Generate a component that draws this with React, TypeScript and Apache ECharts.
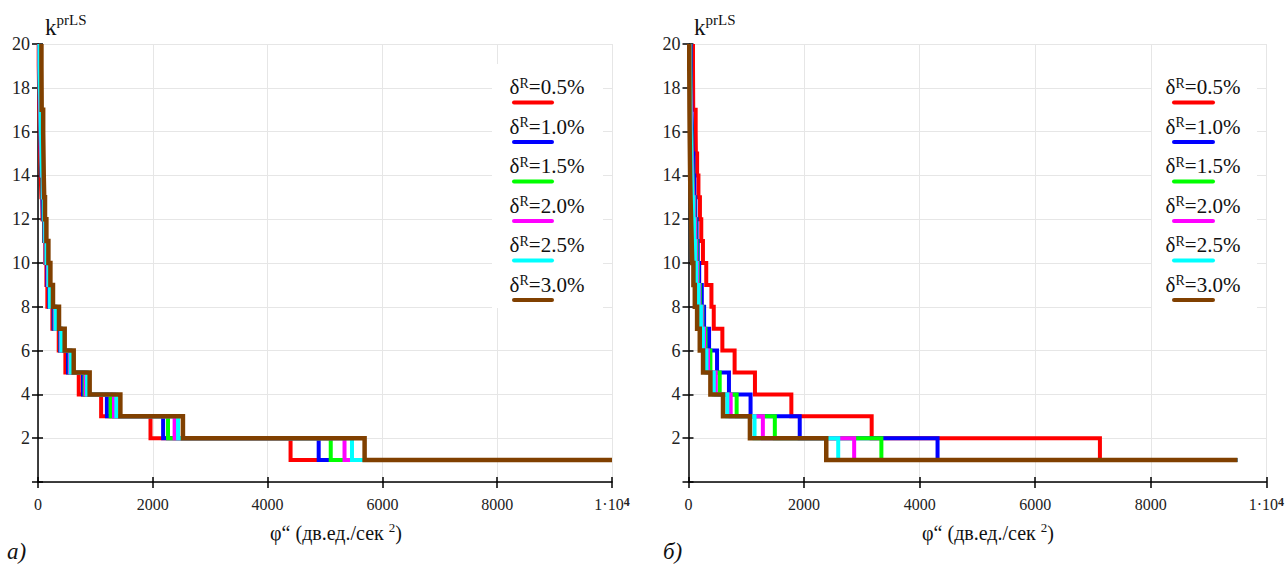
import React, { useEffect, useRef } from "react";
import * as echarts from "echarts";

const FONT = "'Times New Roman', 'Liberation Serif', serif";

// legend labels and colours
const legendLabels = ["0.5%", "1.0%", "1.5%", "2.0%", "2.5%", "3.0%"];
const seriesColors = ["#ff0000", "#0000ff", "#00ff00", "#ff00ff", "#00ffff", "#804000"];

// x positions where k drops from k+1 to k (index 0 -> k = 1 ... index 18 -> k = 19)
// chart а)
const dropsA_05 = [4400, 1960, 1100, 710, 477, 361, 251, 163, 146, 128, 105, 77, 59, 47, 38, 30, 24, 18, 12];
const dropsA_10 = [4890, 2180, 1200, 784, 523, 383, 273, 192, 163, 135, 110, 88, 77, 60, 50, 40, 33, 26, 18];
const dropsA_15 = [5100, 2265, 1266, 813, 552, 395, 291, 204, 175, 146, 116, 99, 80, 66, 55, 45, 37, 29, 22];
const dropsA_20 = [5340, 2380, 1324, 831, 560, 400, 300, 207, 178, 150, 120, 102, 85, 70, 58, 48, 40, 32, 24];
const dropsA_25 = [5470, 2440, 1365, 854, 570, 408, 308, 210, 182, 152, 125, 105, 90, 74, 62, 52, 43, 35, 27];
const dropsA_30 = [5690, 2525, 1435, 900, 622, 465, 366, 261, 216, 181, 146, 122, 108, 100, 95, 90, 64, 62, 60];
const xEndA = 10000;

// chart б)
const dropsB_05 = [7120, 3170, 1780, 1150, 798, 586, 437, 397, 307, 250, 221, 198, 172, 149, 128, 124, 82, 80, 78];
const dropsB_10 = [4310, 1925, 1074, 700, 494, 356, 270, 230, 185, 160, 140, 118, 100, 85, 72, 62, 50, 45, 40];
const dropsB_15 = [3338, 1494, 833, 540, 379, 293, 240, 195, 160, 140, 120, 100, 82, 70, 60, 50, 42, 36, 30];
const dropsB_20 = [2867, 1287, 730, 471, 339, 270, 228, 183, 150, 125, 110, 90, 75, 64, 54, 45, 38, 32, 27];
const dropsB_25 = [2591, 1143, 672, 437, 310, 250, 215, 172, 135, 112, 96, 80, 66, 56, 47, 39, 32, 27, 22];
const dropsB_30 = [2384, 1063, 597, 379, 252, 195, 149, 109, 85, 65, 55, 45, 35, 28, 24, 20, 17, 15, 13];
const xEndB = 9500;

const dropsA = [dropsA_05, dropsA_10, dropsA_15, dropsA_20, dropsA_25, dropsA_30];
const dropsB = [dropsB_05, dropsB_10, dropsB_15, dropsB_20, dropsB_25, dropsB_30];

// axes
const xMin = 0;
const xMax = 10000;
const xInterval = 2000;
const yMin = 0;
const yMax = 20;
const yInterval = 2;

const xAxisTitle = "φ“ (дв.ед./сек ";
const xAxisTitleSup = "2";
const yAxisTitle = "k";
const yAxisTitleSup = "prLS";
const panelLabels = ["а)", "б)"];

function stairs(drops: number[], xEnd: number): number[][] {
  const pts: number[][] = [];
  for (let k = drops.length; k >= 1; k--) {
    const x = drops[k - 1];
    pts.push([x, k + 1], [x, k]);
  }
  pts.push([xEnd, 1]);
  return pts;
}

const grids = [
  { left: 38, top: 44, width: 574, height: 438 },
  { left: 688.5, top: 44, width: 580, height: 438 },
];

export default function App() {
  const ref = useRef<HTMLDivElement>(null);

  useEffect(() => {
    if (!ref.current) return;
    const chart = echarts.init(ref.current, null, { renderer: "svg" });

    const axisColor = "#000";
    const xAxes: any[] = [];
    const yAxes: any[] = [];
    grids.forEach((_, gi) => {
      xAxes.push({
        type: "value",
        gridIndex: gi,
        min: xMin,
        max: xMax,
        interval: xInterval,
        position: "bottom",
        axisLine: { onZero: false, lineStyle: { color: axisColor, width: 1.5 } },
        axisTick: { show: true, length: 6, lineStyle: { color: axisColor, width: 1.5 } },
        axisLabel: {
          fontFamily: FONT,
          fontSize: 16,
          color: "#222",
          margin: 14,
          formatter: (v: number) => (v === 10000 ? "{n|1·10}{s|4}" : String(v)),
          rich: {
            n: { fontFamily: FONT, fontSize: 16, color: "#222" },
            s: { fontFamily: FONT, fontSize: 12, color: "#222", fontWeight: "bold", verticalAlign: "top", lineHeight: 10 },
          },
        },
        splitLine: { show: true, lineStyle: { color: "#e6e6e6", width: 1 } },
      });
      xAxes.push({
        type: "value",
        gridIndex: gi,
        min: xMin,
        max: xMax,
        interval: xInterval,
        position: "bottom",
        axisLine: { show: false, onZero: false },
        axisTick: { show: true, inside: true, length: 5, lineStyle: { color: axisColor, width: 1.5 } },
        axisLabel: { show: false },
        splitLine: { show: false },
      });
      yAxes.push({
        type: "value",
        gridIndex: gi,
        min: yMin,
        max: yMax,
        interval: yInterval,
        position: "left",
        axisLine: { onZero: false, lineStyle: { color: axisColor, width: 1.5 } },
        axisTick: { show: true, length: 6, lineStyle: { color: axisColor, width: 1.5 } },
        axisLabel: {
          fontFamily: FONT,
          fontSize: 18,
          color: "#222",
          margin: 8,
          formatter: (v: number) => (v === 0 ? "" : String(v)),
        },
        splitLine: { show: true, lineStyle: { color: "#e6e6e6", width: 1 } },
      });
      yAxes.push({
        type: "value",
        gridIndex: gi,
        min: yMin,
        max: yMax,
        interval: yInterval,
        position: "left",
        axisLine: { show: false, onZero: false },
        axisTick: { show: true, inside: true, length: 5, lineStyle: { color: axisColor, width: 1.5 } },
        axisLabel: { show: false },
        splitLine: { show: false },
      });
    });

    const series: any[] = [];
    [dropsA, dropsB].forEach((set, gi) => {
      const xEnd = gi === 0 ? xEndA : xEndB;
      set.forEach((drops, i) => {
        series.push({
          type: "line",
          name: legendLabels[i],
          xAxisIndex: gi * 2,
          yAxisIndex: gi * 2,
          data: stairs(drops, xEnd),
          showSymbol: false,
          symbol: "none",
          clip: true,
          z: 3 + i,
          lineStyle: { color: seriesColors[i], width: i === 5 ? 4.5 : 4, cap: "butt", join: "miter" },
          silent: true,
        });
      });
    });

    const graphics: any[] = [];
    const legendCfg = [
      { rectX: 492, rectW: 111, textX: 547, lineX1: 514, lineX2: 552 },
      { rectX: 1152, rectW: 105, textX: 1203, lineX1: 1174, lineX2: 1213 },
    ];
    legendCfg.forEach((lc) => {
      graphics.push({
        type: "rect",
        shape: { x: lc.rectX, y: 64, width: lc.rectW, height: 244 },
        style: { fill: "#fff" },
        z: 50,
      });
      legendLabels.forEach((lab, i) => {
        const ty = 87 + i * 39.5;
        graphics.push({
          type: "text",
          x: lc.textX,
          y: ty,
          z: 51,
          style: {
            text: `{a|δ}{s|R}{a|=${lab}}`,
            align: "center",
            verticalAlign: "middle",
            fontFamily: FONT,
            rich: {
              a: { fontFamily: FONT, fontSize: 21, fill: "#111", lineHeight: 22 },
              s: { fontFamily: FONT, fontSize: 14, fill: "#111", verticalAlign: "top", lineHeight: 12 },
            },
          },
        });
        graphics.push({
          type: "line",
          z: 51,
          shape: { x1: lc.lineX1, y1: ty + 15.5, x2: lc.lineX2, y2: ty + 15.5 },
          style: { stroke: seriesColors[i], lineWidth: 4, lineCap: "round" },
        });
      });
    });

    // axis titles
    [336, 988].forEach((cx) => {
      graphics.push({
        type: "text",
        x: cx,
        y: 533,
        z: 51,
        style: {
          text: `{a|${xAxisTitle}}{s|${xAxisTitleSup}}{a|)}`,
          align: "center",
          verticalAlign: "middle",
          fontFamily: FONT,
          rich: {
            a: { fontFamily: FONT, fontSize: 20, fill: "#111", lineHeight: 24 },
            s: { fontFamily: FONT, fontSize: 13, fill: "#111", verticalAlign: "top", lineHeight: 12 },
          },
        },
      });
    });
    [45, 694].forEach((lx) => {
      graphics.push({
        type: "text",
        x: lx,
        y: 27,
        z: 51,
        style: {
          text: `{a|${yAxisTitle}}{s|${yAxisTitleSup}}`,
          align: "left",
          verticalAlign: "middle",
          fontFamily: FONT,
          rich: {
            a: { fontFamily: FONT, fontSize: 23, fill: "#111", lineHeight: 30 },
            s: { fontFamily: FONT, fontSize: 15, fill: "#111", verticalAlign: "top", lineHeight: 13 },
          },
        },
      });
    });
    [7, 663].forEach((px, i) => {
      graphics.push({
        type: "text",
        x: px,
        y: 551,
        z: 51,
        style: {
          text: panelLabels[i],
          fontFamily: FONT,
          fontSize: 23,
          lineHeight: 24,
          fontStyle: "italic",
          fill: "#111",
          align: "left",
          verticalAlign: "middle",
        },
      });
    });

    chart.setOption({
      animation: false,
      backgroundColor: "#fff",
      textStyle: { fontFamily: FONT },
      grid: grids.map((g) => ({ ...g, containLabel: false })),
      xAxis: xAxes,
      yAxis: yAxes,
      series,
      graphic: graphics,
    });

    return () => chart.dispose();
  }, []);

  return (
    <div
      ref={ref}
      style={{ position: "fixed", left: 0, top: 0, width: 1287, height: 567, background: "#fff" }}
    />
  );
}
